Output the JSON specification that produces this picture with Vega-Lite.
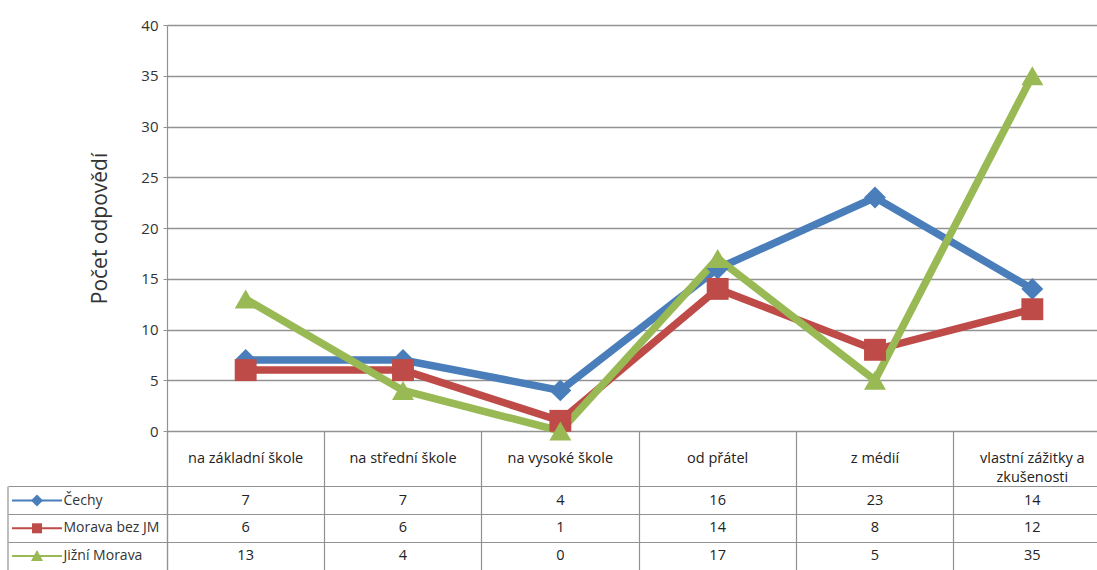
{
  "$schema": "https://vega.github.io/schema/vega-lite/v6.json",
  "width": 930,
  "height": 545,
  "autosize": {"type": "none"},
  "padding": {"left": 167, "top": 25, "right": 0, "bottom": 0},
  "background": "white",
  "config": {"view": {"stroke": null}, "font": "Open Sans", "text": {"font": "Open Sans"}},
  "datasets": {
    "responses": [
      {"series": "Čechy", "cat": "na základní škole", "value": 7},
      {"series": "Čechy", "cat": "na střední škole", "value": 7},
      {"series": "Čechy", "cat": "na vysoké škole", "value": 4},
      {"series": "Čechy", "cat": "od přátel", "value": 16},
      {"series": "Čechy", "cat": "z médií", "value": 23},
      {"series": "Čechy", "cat": "vlastní zážitky a zkušenosti", "value": 14},
      {"series": "Morava bez JM", "cat": "na základní škole", "value": 6},
      {"series": "Morava bez JM", "cat": "na střední škole", "value": 6},
      {"series": "Morava bez JM", "cat": "na vysoké škole", "value": 1},
      {"series": "Morava bez JM", "cat": "od přátel", "value": 14},
      {"series": "Morava bez JM", "cat": "z médií", "value": 8},
      {"series": "Morava bez JM", "cat": "vlastní zážitky a zkušenosti", "value": 12},
      {"series": "Jižní Morava", "cat": "na základní škole", "value": 13},
      {"series": "Jižní Morava", "cat": "na střední škole", "value": 4},
      {"series": "Jižní Morava", "cat": "na vysoké škole", "value": 0},
      {"series": "Jižní Morava", "cat": "od přátel", "value": 17},
      {"series": "Jižní Morava", "cat": "z médií", "value": 5},
      {"series": "Jižní Morava", "cat": "vlastní zážitky a zkušenosti", "value": 35}
    ],
    "categories": [
      {"cat": "na základní škole", "label": "na základní škole"},
      {"cat": "na střední škole", "label": "na střední škole"},
      {"cat": "na vysoké škole", "label": "na vysoké škole"},
      {"cat": "od přátel", "label": "od přátel"},
      {"cat": "z médií", "label": "z médií"},
      {"cat": "vlastní zážitky a zkušenosti", "label": "vlastní zážitky a\nzkušenosti"}
    ],
    "rows": [
      {"series": "Čechy"},
      {"series": "Morava bez JM"},
      {"series": "Jižní Morava"}
    ]
  },
  "layer": [
    {
      "data": {"name": "responses"},
      "encoding": {
        "x": {
          "field": "cat", "type": "nominal",
          "scale": {"type": "band", "domain": ["na základní škole", "na střední škole", "na vysoké škole", "od přátel", "z médií", "vlastní zážitky a zkušenosti"], "range": [0, 944], "paddingInner": 0, "paddingOuter": 0},
          "axis": {"orient": "bottom", "bandPosition": 0, "tickSize": -139, "tickColor": "#929292", "tickWidth": 1.2, "domain": false, "labels": false, "grid": false, "title": null}
        },
        "y": {
          "field": "value", "type": "quantitative",
          "scale": {"domain": [0, 40], "range": [406, 0], "nice": false, "zero": true},
          "axis": {"orient": "left", "offset": 0, "values": [0, 5, 10, 15, 20, 25, 30, 35, 40], "tickSize": 4, "tickColor": "#929292", "domain": true, "domainColor": "#929292", "domainWidth": 1.2, "grid": true, "gridColor": "#929292", "gridWidth": 1.4, "labelPadding": 5, "labelFontSize": 15, "labelColor": "#333333", "labelFont": "Open Sans", "title": "Počet odpovědí", "titleFont": "Open Sans", "titleFontSize": 21, "titleFontWeight": "normal", "titleColor": "#333333", "titleX": -67, "titleY": 203, "titleAngle": -90, "titleAlign": "center", "titleBaseline": "middle"}
        },
        "color": {"field": "series", "type": "nominal", "scale": {"domain": ["Čechy", "Morava bez JM", "Jižní Morava"], "range": ["#4a7ebb", "#be4b48", "#98b954"]}, "legend": null}
      },
      "layer": [
        {"mark": {"type": "line", "strokeWidth": 7.5}, "encoding": {"order": {"value": null}}},
        {
          "mark": {"type": "point", "filled": true, "opacity": 1, "size": 480},
          "encoding": {"shape": {"field": "series", "type": "nominal", "scale": {"domain": ["Čechy", "Morava bez JM", "Jižní Morava"], "range": ["diamond", "square", "triangle-up"]}, "legend": null}}
        }
      ]
    },
    {
      "encoding": {
        "x": {
          "field": "cat", "type": "nominal",
          "scale": {"type": "band", "domain": ["na základní škole", "na střední škole", "na vysoké škole", "od přátel", "z médií", "vlastní zážitky a zkušenosti"], "range": [0, 944], "paddingInner": 0, "paddingOuter": 0},
          "axis": {"orient": "bottom", "bandPosition": 0, "tickSize": -139, "tickColor": "#929292", "tickWidth": 1.2, "domain": false, "labels": false, "grid": false, "title": null}
        },
        "y": {
          "field": "series", "type": "nominal",
          "scale": {"type": "band", "domain": ["hdr1", "hdr2", "Čechy", "Morava bez JM", "Jižní Morava"], "range": [406, 545], "paddingInner": 0, "paddingOuter": 0},
          "axis": {"orient": "left", "offset": 0, "values": ["Čechy", "Morava bez JM", "Jižní Morava"], "bandPosition": 0, "tickSize": 159, "tickColor": "#929292", "tickWidth": 1.2, "domain": true, "domainColor": "#929292", "domainWidth": 1.2, "grid": true, "gridColor": "#929292", "gridWidth": 1.2, "labelAlign": "left", "labelBaseline": "middle", "labelPadding": -55, "labelFontSize": 14, "labelColor": "#333333", "labelFont": "Open Sans", "labelOverlap": false, "title": null}
        }
      },
      "layer": [
        {
          "data": {"name": "responses"},
          "mark": {"type": "text", "fontSize": 14.5, "color": "#222222"},
          "encoding": {"text": {"field": "value", "type": "quantitative"}}
        },
        {
          "data": {"name": "categories"},
          "mark": {"type": "text", "fontSize": 14.5, "color": "#222222", "lineBreak": "\n", "lineHeight": 19},
          "encoding": {
            "y": {
              "datum": "hdr2", "type": "nominal", "bandPosition": 0,
              "scale": {"type": "band", "domain": ["hdr1", "hdr2", "Čechy", "Morava bez JM", "Jižní Morava"], "range": [406, 545], "paddingInner": 0, "paddingOuter": 0},
              "axis": {"orient": "left", "offset": 0, "values": ["Čechy", "Morava bez JM", "Jižní Morava"], "bandPosition": 0, "tickSize": 159, "tickColor": "#929292", "tickWidth": 1.2, "domain": true, "domainColor": "#929292", "domainWidth": 1.2, "grid": true, "gridColor": "#929292", "gridWidth": 1.2, "labelAlign": "left", "labelBaseline": "middle", "labelPadding": -55, "labelFontSize": 14, "labelColor": "#333333", "labelFont": "Open Sans", "labelOverlap": false, "title": null}
            },
            "text": {"field": "label", "type": "nominal"}
          }
        },
        {
          "data": {"name": "rows"},
          "mark": {"type": "point", "shape": "M-155,0H-105", "size": 4, "filled": false, "strokeWidth": 2, "opacity": 1},
          "encoding": {
            "x": {
              "datum": "na základní škole", "type": "nominal", "bandPosition": 0,
              "scale": {"type": "band", "domain": ["na základní škole", "na střední škole", "na vysoké škole", "od přátel", "z médií", "vlastní zážitky a zkušenosti"], "range": [0, 944], "paddingInner": 0, "paddingOuter": 0},
              "axis": {"orient": "bottom", "bandPosition": 0, "tickSize": -139, "tickColor": "#929292", "tickWidth": 1.2, "domain": false, "labels": false, "grid": false, "title": null}
            },
            "color": {"field": "series", "type": "nominal", "scale": {"domain": ["Čechy", "Morava bez JM", "Jižní Morava"], "range": ["#4a7ebb", "#be4b48", "#98b954"]}, "legend": null}
          }
        },
        {
          "data": {"name": "rows"},
          "mark": {"type": "point", "size": 4, "filled": true, "opacity": 1},
          "encoding": {
            "x": {
              "datum": "na základní škole", "type": "nominal", "bandPosition": 0,
              "scale": {"type": "band", "domain": ["na základní škole", "na střední škole", "na vysoké škole", "od přátel", "z médií", "vlastní zážitky a zkušenosti"], "range": [0, 944], "paddingInner": 0, "paddingOuter": 0},
              "axis": {"orient": "bottom", "bandPosition": 0, "tickSize": -139, "tickColor": "#929292", "tickWidth": 1.2, "domain": false, "labels": false, "grid": false, "title": null}
            },
            "color": {"field": "series", "type": "nominal", "scale": {"domain": ["Čechy", "Morava bez JM", "Jižní Morava"], "range": ["#4a7ebb", "#be4b48", "#98b954"]}, "legend": null},
            "shape": {"field": "series", "type": "nominal", "scale": {"domain": ["Čechy", "Morava bez JM", "Jižní Morava"], "range": ["M-130,-6L-124,0L-130,6L-136,0Z", "M-135,-5H-125V5H-135Z", "M-130,-6L-124,5L-136,5Z"]}, "legend": null}
          }
        },
        {
          "data": {"name": "rows"},
          "mark": {"type": "point", "shape": "M-159,-14V14", "size": 4, "filled": false, "stroke": "#929292", "strokeWidth": 1.2, "opacity": 1},
          "encoding": {
            "x": {
              "datum": "na základní škole", "type": "nominal", "bandPosition": 0,
              "scale": {"type": "band", "domain": ["na základní škole", "na střední škole", "na vysoké škole", "od přátel", "z médií", "vlastní zážitky a zkušenosti"], "range": [0, 944], "paddingInner": 0, "paddingOuter": 0},
              "axis": {"orient": "bottom", "bandPosition": 0, "tickSize": -139, "tickColor": "#929292", "tickWidth": 1.2, "domain": false, "labels": false, "grid": false, "title": null}
            }
          }
        }
      ]
    }
  ],
  "resolve": {"scale": {"y": "independent", "shape": "independent"}, "axis": {"y": "independent"}}
}
